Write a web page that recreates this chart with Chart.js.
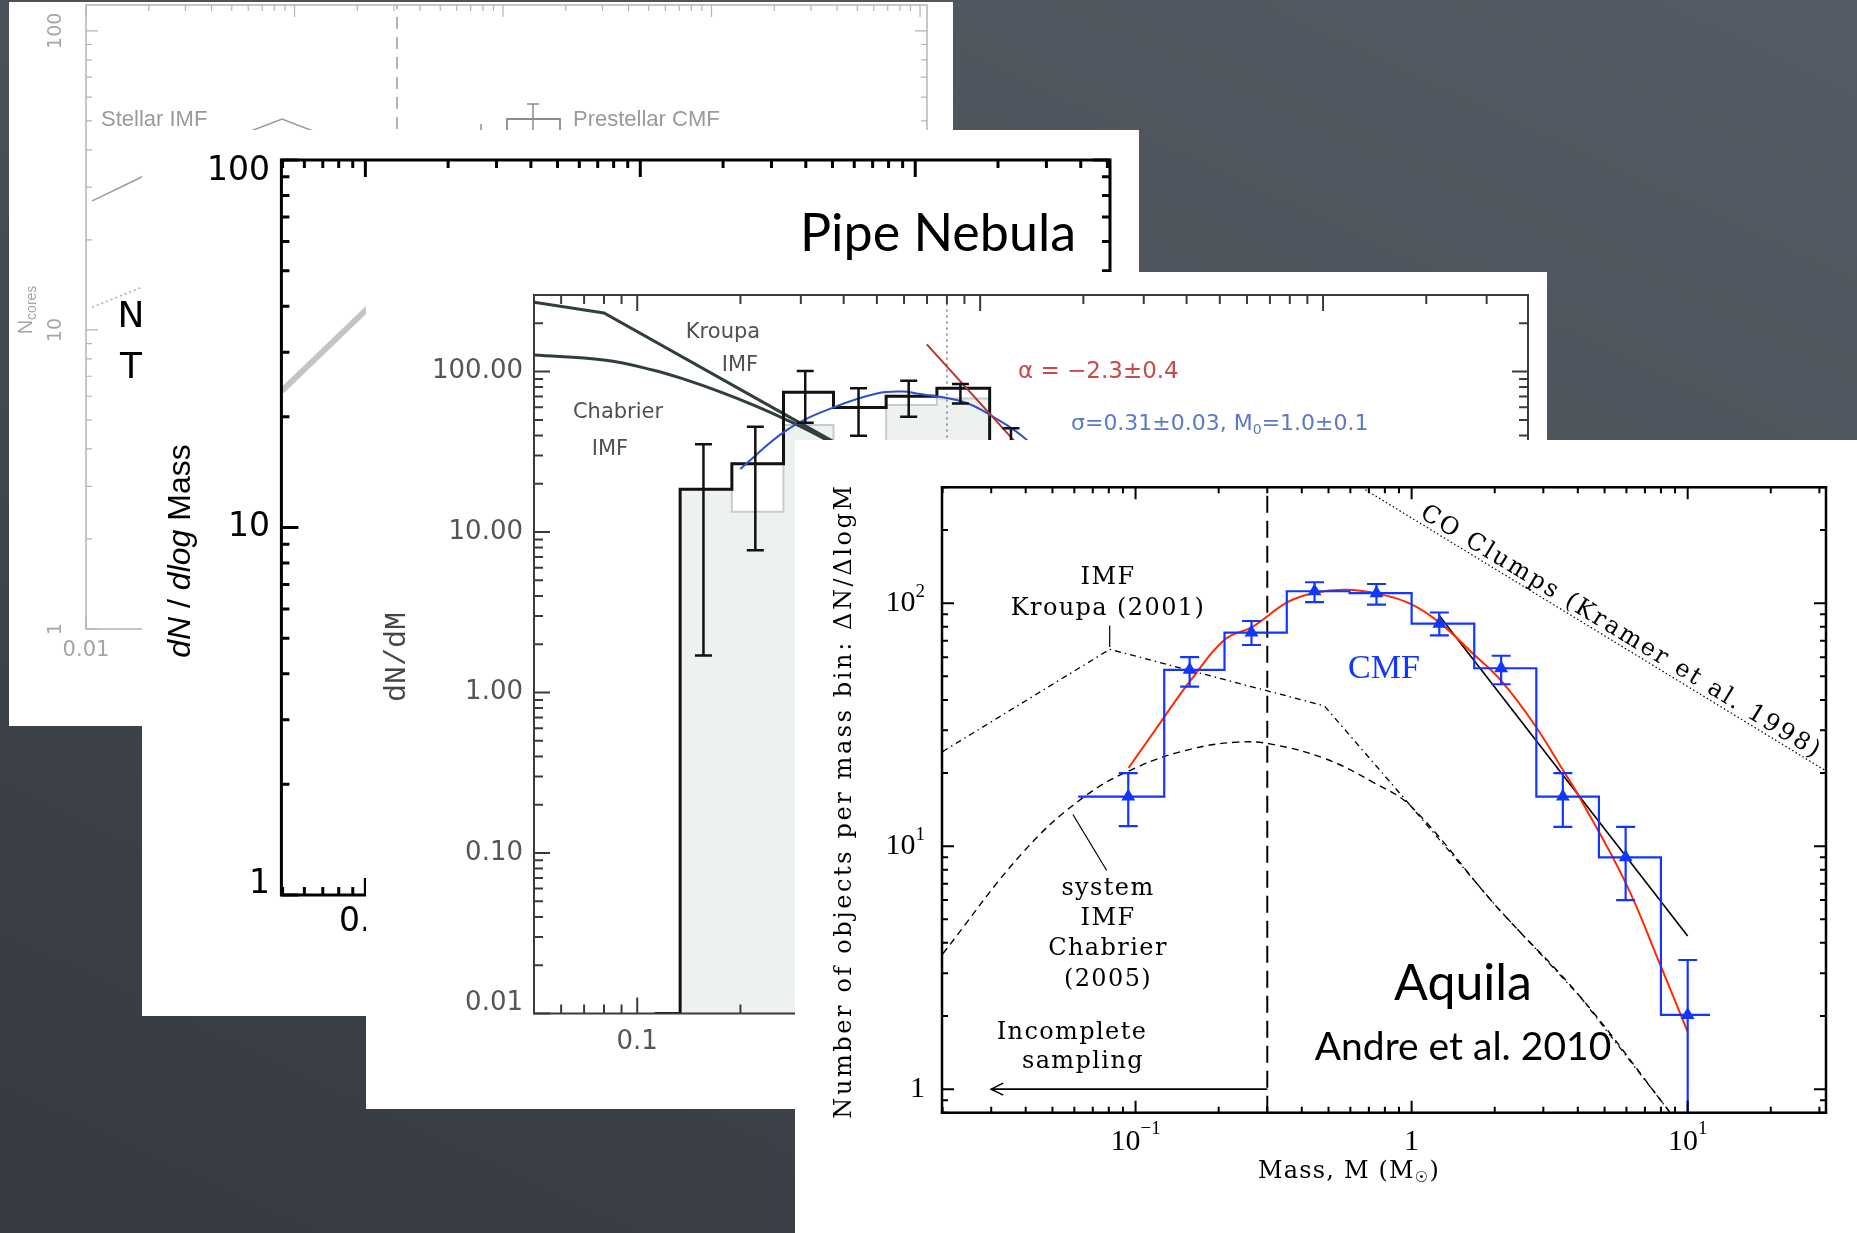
<!DOCTYPE html>
<html>
<head>
<meta charset="utf-8">
<title>Core mass functions</title>
<script src="https://cdn.jsdelivr.net/npm/chart.js@4.4.1/dist/chart.umd.min.js"></script>
<style>
  html, body { margin: 0; padding: 0; }
  body {
    width: 1857px; height: 1233px; overflow: hidden; position: relative;
    background: linear-gradient(205deg, #555b64 0%, #4c525a 40%, #3c4148 75%, #353940 100%);
  }
  .panel { position: absolute; background: #fff; }
  .panel canvas { position: absolute; left: 0; top: 0; }
</style>
</head>
<body>
<div class="panel" style="left:9px;top:2px;width:944px;height:724px"><canvas id="old" width="944" height="724"></canvas></div>
<div class="panel" style="left:142px;top:130px;width:997px;height:886px"><canvas id="nebula" width="997" height="886"></canvas></div>
<div class="panel" style="left:366px;top:272px;width:1181px;height:837px"><canvas id="pipe" width="1181" height="837"></canvas></div>
<div class="panel" style="left:795px;top:440px;width:1062px;height:793px"><canvas id="aquila" width="1062" height="793"></canvas></div>
<script>
// ---- Aquila (front panel) ----
const aquilaEdges = [0.062, 0.127, 0.210, 0.353, 0.596, 1.0, 1.686, 2.83, 4.77, 8.0, 12.05];
const aquilaCounts = [16.0, 53.2, 75.7, 112, 110, 82.4, 54.0, 16.0, 9.0, 2.02];
const aquilaMass = [0.0941, 0.157, 0.263, 0.445, 0.746, 1.26, 2.11, 3.53, 5.96, 10.0];
const aquilaErrLow = [12.1, 45.4, 67.3, 101, 98.6, 73.8, 46.4, 12.0, 6.0, 0.5];
const aquilaErrHigh = [20.0, 60.0, 84.5, 122, 120, 91.6, 60.8, 20.0, 12.0, 3.4];
const fitMass = [0.0944, 0.127, 0.158, 0.211, 0.265, 0.355, 0.44, 0.578, 0.767, 1.0, 1.266, 1.67, 2.11, 2.8, 3.54, 4.07, 5.95, 8.0, 10.0];
const fitValue = [21, 34, 48, 71, 80, 101, 110, 113.5, 109, 99, 83, 62, 48, 31.4, 20.5, 15.8, 7.1, 3.2, 1.72];
const slopeMass = [1.25, 10.0];
const slopeValue = [89.9, 4.27];
const kroupaMass = [0.02, 0.0806, 0.483, 1.0, 2.03, 4.07, 8.6];
const kroupaValue = [24.5, 64.6, 37.8, 14.5, 5.64, 2.41, 0.807];
const chabrierMass = [0.02, 0.039, 0.0648, 0.102, 0.159, 0.234, 0.31, 0.487, 0.72, 1.0, 2.03, 4.07, 8.6];
const chabrierValue = [3.6, 9.4, 15.9, 21.2, 25.1, 26.8, 26.3, 22.9, 18.4, 14.5, 5.64, 2.41, 0.807];
const coMass = [0.68, 31.7];
const coValue = [293, 20.4];
const completeMass = 0.3;
const arrowMass = [0.3, 0.030];
const arrowValue = [1.0, 1.0];
const kroupaTickMass = [0.0806, 0.0806];
const kroupaTickValue = [66, 81];
const systemTickMass = [0.0593, 0.0786];
const systemTickValue = [13.5, 7.94];
const aquilaXTicks = [0.1, 1, 10];
const aquilaXText = ['10', '1', '10'];
const aquilaXSup = ['\u22121', '', '1'];
const aquilaYTicks = [1, 10, 100];
const aquilaYText = ['1', '10', '10'];
const aquilaYSup = ['', '1', '2'];

// ---- Pipe Nebula dN/dM (third panel) ----
const pipeEdges = [0.1125, 0.1334, 0.1888, 0.267, 0.3735, 0.532, 0.748, 1.066, 1.5];
const pipeCounts = [0.01, 18.5, 26.6, 74.2, 59.8, 70.3, 78.6, 30];
const pipeAltEdges = [0.1334, 0.1888, 0.267, 0.3735, 0.532, 0.748, 1.066];
const pipeAltCounts = [18.5, 13.4, 46.4, 30, 61.8, 68];
const pipeErrMass = [0.156, 0.221, 0.309, 0.442, 0.619, 0.876, 1.23];
const pipeErrLow = [1.7, 7.7, 48, 39.8, 52.3, 63.3, 20];
const pipeErrHigh = [35.3, 45.3, 101, 78.6, 87.6, 83.6, 44.3];
const pipeKroupaMass = [0.05, 0.08, 0.373, 0.45];
const pipeKroupaValue = [270, 232, 36.6, 28];
const pipeChabrierMass = [0.05, 0.08, 0.1116, 0.1396, 0.1746, 0.2185, 0.2735, 0.3423, 0.45];
const pipeChabrierValue = [126.7, 118, 102, 88.5, 74.8, 61.8, 49.9, 39.3, 28];
const pipeFitMass = [0.1997, 0.2735, 0.3735, 0.5, 0.597, 0.653, 0.891, 1.092, 1.37, 1.7];
const pipeFitValue = [24.7, 43.3, 59.8, 73.1, 75, 73.1, 64.9, 52.3, 37.4, 22];
const pipeSlopeMass = [0.699, 1.6];
const pipeSlopeValue = [147.6, 21];
const pipeCutMass = 0.8;
const pipeXTicks = [0.1, 1, 10];
const pipeXText = ['0.1', '1', '10'];
const pipeYTicks = [0.01, 0.1, 1, 10, 100];
const pipeYText = ['0.01', '0.10', '1.00', '10.00', '100.00'];

// ---- Pipe Nebula dN/dlogM (second panel) ----
const nebulaMass = [0.0496, 0.1, 0.13];
const nebulaValue = [23.5, 38.9, 46];
const nebulaXTicks = [0.1, 1, 10];
const nebulaXText = ['0.1', '1', '10'];
const nebulaYTicks = [1, 10, 100];
const nebulaYText = ['1', '10', '100'];

// ---- back panel ----
const stellarMass = [0.0107, 0.0181, 0.03];
const stellarValue = [27, 32.2, 40];
const cmfMass = [0.0107, 0.0181, 0.03];
const cmfValue = [11.9, 13.8, 17];
const oldCutMass = 0.31;
const oldXTicks = [0.01, 0.1, 1, 10, 100];
const oldXText = ['0.01', '0.1', '1', '10', '100'];
const oldYTicks = [1, 10, 100];
const oldYText = ['1', '10', '100'];

const SERIF = '24px "DejaVu Serif"';
const LS = '1.4px';
const BLUE = '#1236ff';

function pts(xs, ys) { return xs.map((x, i) => ({ x: x, y: ys[i] })); }
function steps(edges, counts) {
    const p = counts.map((c, i) => ({ x: edges[i], y: c }));
    p.push({ x: edges[edges.length - 1], y: counts[counts.length - 1] });
    return p;
}
function line(data, color, width, dash, extra) {
    return Object.assign({ data: data, borderColor: color, borderWidth: width, borderDash: dash || [],
        pointRadius: 0, fill: false, tension: 0 }, extra || {});
}

function logTicks(min, max) {
    const out = [];
    for (let k = Math.floor(Math.log10(min)); k <= Math.ceil(Math.log10(max)); k++) {
        for (let m = 1; m <= 9; m++) {
            const v = m * Math.pow(10, k);
            if (v >= min * 0.9999 && v <= max * 1.0001) out.push({ v: v, major: m === 1 });
        }
    }
    return out;
}

function drawNote(ctx, n) {
    const parts = n.parts || [[n.t, n.font]];
    ctx.save();
    ctx.translate(n.x, n.y);
    if (n.rot) ctx.rotate(n.rot * Math.PI / 180);
    ctx.fillStyle = n.color || '#000';
    ctx.textBaseline = n.base || 'middle';
    ctx.textAlign = 'left';
    ctx.letterSpacing = n.ls || '0px';
    let w = 0;
    parts.forEach(p => { ctx.font = p[1]; w += ctx.measureText(p[0]).width; });
    let x = n.align === 'left' ? 0 : n.align === 'right' ? -w : -w / 2;
    parts.forEach(p => {
        ctx.font = p[1];
        ctx.fillText(p[0], x, p[2] || 0);
        x += ctx.measureText(p[0]).width;
    });
    ctx.restore();
}

function labelParts(L, i) {
    const p = [[L.text[i], L.font]];
    if (L.sup && L.sup[i]) p.push([L.sup[i], L.supFont, L.supDy]);
    return p;
}

const paperPlugin = {
    id: 'paper',
    afterDatasetsDraw(chart, args, o) {
        const ctx = chart.ctx, a = chart.chartArea, xs = chart.scales.x, ys = chart.scales.y;
        const ox = o.origin[0], oy = o.origin[1];
        ctx.save();

        (o.errorBars || []).forEach(e => {
            ctx.save();
            ctx.beginPath(); ctx.rect(a.left, a.top, a.width, a.height); ctx.clip();
            ctx.strokeStyle = e.color; ctx.lineWidth = e.width;
            ctx.beginPath();
            e.x.forEach((m, i) => {
                const px = xs.getPixelForValue(m);
                const top = ys.getPixelForValue(e.hi[i]), bot = ys.getPixelForValue(e.lo[i]);
                ctx.moveTo(px, top); ctx.lineTo(px, bot);
                ctx.moveTo(px - e.cap / 2, top); ctx.lineTo(px + e.cap / 2, top);
                if (e.lo[i] > ys.min) { ctx.moveTo(px - e.cap / 2, bot); ctx.lineTo(px + e.cap / 2, bot); }
            });
            ctx.stroke();
            ctx.restore();
        });

        if (o.arrow) {
            const d = chart.getDatasetMeta(o.arrow.dataset).data;
            const tip = d[d.length - 1];
            ctx.strokeStyle = '#000'; ctx.lineWidth = 1.6;
            ctx.beginPath();
            ctx.moveTo(tip.x + o.arrow.len, tip.y - o.arrow.half);
            ctx.lineTo(tip.x, tip.y);
            ctx.lineTo(tip.x + o.arrow.len, tip.y + o.arrow.half);
            ctx.stroke();
        }

        if (o.lineLabel) {
            const L = o.lineLabel, d = chart.getDatasetMeta(L.dataset).data;
            const p0 = d[0], p1 = d[d.length - 1];
            const ang = Math.atan2(p1.y - p0.y, p1.x - p0.x);
            const cx = p0.x + (p1.x - p0.x) * L.t + Math.sin(ang) * L.offset;
            const cy = p0.y + (p1.y - p0.y) * L.t - Math.cos(ang) * L.offset;
            drawNote(ctx, { t: L.text, font: L.font, x: cx, y: cy, rot: ang * 180 / Math.PI,
                base: 'alphabetic', ls: L.ls, color: '#000' });
        }

        // frame with inward log ticks on all four sides
        const f = o.frame;
        ctx.strokeStyle = f.color; ctx.lineWidth = f.tickWidth;
        ctx.beginPath();
        logTicks(xs.min, xs.max).forEach(t => {
            const px = xs.getPixelForValue(t.v), len = t.major ? f.major : f.minor;
            ctx.moveTo(px, a.bottom); ctx.lineTo(px, a.bottom - len);
            ctx.moveTo(px, a.top); ctx.lineTo(px, a.top + len);
        });
        logTicks(ys.min, ys.max).forEach(t => {
            const py = ys.getPixelForValue(t.v), len = t.major ? f.major : f.minor;
            ctx.moveTo(a.left, py); ctx.lineTo(a.left + len, py);
            ctx.moveTo(a.right, py); ctx.lineTo(a.right - len, py);
        });
        ctx.stroke();
        ctx.lineWidth = f.width;
        ctx.strokeRect(a.left, a.top, a.width, a.height);

        const XL = o.xLabels;
        XL.values.forEach((v, i) => {
            drawNote(ctx, { parts: labelParts(XL, i), x: xs.getPixelForValue(v), y: XL.y - oy, color: XL.color });
        });
        const YL = o.yLabels;
        YL.values.forEach((v, i) => {
            let py = ys.getPixelForValue(v);
            py = Math.min(Math.max(py, a.top + (YL.inset || 0)), a.bottom - (YL.inset || 0));
            if (YL.rot) {
                drawNote(ctx, { parts: labelParts(YL, i), x: YL.x - ox, y: py, rot: YL.rot, color: YL.color });
            } else {
                drawNote(ctx, { parts: labelParts(YL, i), x: YL.right - ox, y: py, align: 'right', color: YL.color });
            }
        });

        (o.paths || []).forEach(p => {
            ctx.strokeStyle = p.color; ctx.lineWidth = p.width;
            ctx.beginPath();
            p.pts.forEach((q, i) => i ? ctx.lineTo(q[0] - ox, q[1] - oy) : ctx.moveTo(q[0] - ox, q[1] - oy));
            ctx.stroke();
        });

        (o.notes || []).forEach(n => drawNote(ctx, Object.assign({}, n, { x: n.x - ox, y: n.y - oy })));
        ctx.restore();
    }
};

function logChart(id, panel, plot, xRange, yRange, datasets, paper) {
    paper.origin = panel;
    return new Chart(document.getElementById(id), {
        type: 'line',
        data: { datasets: datasets },
        options: {
            responsive: false,
            animation: false,
            devicePixelRatio: 1,
            layout: { padding: { left: plot[0] - panel[0], top: plot[1] - panel[1],
                right: panel[0] + panel[2] - plot[2], bottom: panel[1] + panel[3] - plot[3] } },
            scales: {
                x: { type: 'logarithmic', min: xRange[0], max: xRange[1], display: false },
                y: { type: 'logarithmic', min: yRange[0], max: yRange[1], display: false }
            },
            plugins: { legend: { display: false }, tooltip: { enabled: false }, paper: paper }
        },
        plugins: [paperPlugin]
    });
}

// back panel
const GREY = '#a4a4a4';
logChart('old', [9, 2, 944, 724], [86, 5, 927, 629], [0.01, 108], [1, 122], [
    line(pts(stellarMass, stellarValue), '#9c9c9c', 1.6),
    line(pts(cmfMass, cmfValue), '#b0b0b0', 1.6, [2, 3]),
    line([{ x: oldCutMass, y: 1 }, { x: oldCutMass, y: 122 }], '#9c9c9c', 1.5, [12, 8])
], {
    frame: { color: '#b4b4b4', width: 1.5, tickWidth: 1.2, major: 12, minor: 6 },
    xLabels: { values: oldXTicks, text: oldXText, font: '21px "DejaVu Sans"', color: GREY, y: 651 },
    yLabels: { values: oldYTicks, text: oldYText, font: '19px "DejaVu Sans"', color: GREY, x: 56, rot: -90 },
    paths: [
        { pts: [[251, 131], [282, 119], [313, 131]], color: '#9c9c9c', width: 1.5 },
        { pts: [[507, 136], [507, 119], [560, 119], [560, 136]], color: '#8c8c8c', width: 1.8 },
        { pts: [[533, 104], [533, 136]], color: '#8c8c8c', width: 1.5 },
        { pts: [[527, 104], [539, 104]], color: '#8c8c8c', width: 1.5 },
        { pts: [[481, 124], [481, 131]], color: '#8c8c8c', width: 1.5 }
    ],
    notes: [
        { t: 'Stellar IMF', font: '22px "Liberation Sans"', x: 101, y: 120, align: 'left', color: '#9a9a9a' },
        { t: 'Prestellar CMF', font: '22px "Liberation Sans"', x: 573, y: 120, align: 'left', color: '#9a9a9a' },
        { parts: [['N', '20px "Liberation Sans"'], ['cores', '14px "Liberation Sans"', 6]], x: 26, y: 310, rot: -90, color: GREY },
        { t: 'N', font: '36px "DejaVu Sans"', x: 131, y: 318 },
        { t: 'T', font: '36px "DejaVu Sans"', x: 131, y: 369 }
    ]
});

// Pipe Nebula dN/dlogM
logChart('nebula', [142, 130, 997, 886], [281.4, 160, 1110, 895], [0.0495, 51.1], [1, 100], [
    line(pts(nebulaMass, nebulaValue), '#c4c4c4', 6)
], {
    frame: { color: '#000', width: 3, tickWidth: 3, major: 17, minor: 8 },
    xLabels: { values: nebulaXTicks, text: nebulaXText, font: '33px "DejaVu Sans"', color: '#000', y: 922 },
    yLabels: { values: nebulaYTicks, text: nebulaYText, font: '33px "DejaVu Sans"', color: '#000', right: 270, inset: 11 },
    notes: [
        { t: 'Pipe Nebula', font: '52px Lato', x: 938, y: 251, base: 'alphabetic' },
        { parts: [['dN', 'italic 32px "Liberation Sans"'], [' / ', '32px "Liberation Sans"'],
            ['dlog', 'italic 32px "Liberation Sans"'], [' Mass', '32px "Liberation Sans"']], x: 181, y: 551, rot: -90 }
    ]
});

// Pipe Nebula dN/dM
const DARK = '#2f3f3d';
const pipeLabel = '21px "DejaVu Sans"';
logChart('pipe', [366, 272, 1181, 837], [534, 295, 1528, 1013.5], [0.05, 39.6], [0.01, 300], [
    line(pts(pipeSlopeMass, pipeSlopeValue), '#b83232', 2),
    line(pts(pipeFitMass, pipeFitValue), '#3050c8', 2, [], { tension: 0.4 }),
    line(steps(pipeEdges, pipeCounts), '#111', 3, [], { stepped: 'before' }),
    line(pts(pipeKroupaMass, pipeKroupaValue), DARK, 3),
    line(pts(pipeChabrierMass, pipeChabrierValue), DARK, 3, [], { tension: 0.4 }),
    line([{ x: pipeCutMass, y: 0.01 }, { x: pipeCutMass, y: 300 }], '#777', 1.5, [2, 4]),
    line(steps(pipeAltEdges, pipeAltCounts), '#c6cccb', 2, [], { stepped: 'before', fill: 'start', backgroundColor: '#eef2ef' })
], {
    errorBars: [{ x: pipeErrMass, lo: pipeErrLow, hi: pipeErrHigh, color: '#111', width: 2.5, cap: 17 }],
    frame: { color: '#3a3a3a', width: 2, tickWidth: 2, major: 16, minor: 9 },
    xLabels: { values: pipeXTicks, text: pipeXText, font: '26px "DejaVu Sans"', color: '#555', y: 1042 },
    yLabels: { values: pipeYTicks, text: pipeYText, font: '26px "DejaVu Sans"', color: '#555', right: 523, inset: 10 },
    notes: [
        { t: 'Kroupa', font: pipeLabel, x: 723, y: 333, color: '#505050' },
        { t: 'IMF', font: pipeLabel, x: 740, y: 366, color: '#505050' },
        { t: 'Chabrier', font: pipeLabel, x: 618, y: 413, color: '#505050' },
        { t: 'IMF', font: pipeLabel, x: 610, y: 450, color: '#505050' },
        { t: '\u03b1 = \u22122.3\u00b10.4', font: '23px "DejaVu Sans"', x: 1018, y: 372, align: 'left', color: '#c84a4a' },
        { parts: [['\u03c3=0.31\u00b10.03, M', '22px "DejaVu Sans"'], ['0', '14px "DejaVu Sans"', 6],
            ['=1.0\u00b10.1', '22px "DejaVu Sans"']], x: 1071, y: 424, align: 'left', color: '#5b79c9' },
        { t: 'dN/dM', font: '30px "Liberation Mono"', x: 397, y: 657, rot: -90, color: '#444' }
    ]
});

// Aquila
logChart('aquila', [795, 440, 1062, 793], [942, 487.3, 1826, 1112.7], [0.0199, 31.7], [0.8, 300], [
    line(pts(aquilaMass, aquilaCounts), BLUE, 0, [], { showLine: false, pointStyle: 'triangle', pointRadius: 8,
        pointBackgroundColor: BLUE, pointBorderColor: BLUE, pointBorderWidth: 0 }),
    line(steps(aquilaEdges, aquilaCounts), BLUE, 2.2, [], { stepped: 'before' }),
    line(pts(fitMass, fitValue), '#ff2a00', 2, [], { tension: 0.4 }),
    line(pts(slopeMass, slopeValue), '#000', 1.6),
    line(pts(kroupaMass, kroupaValue), '#000', 1.3, [6, 4, 1.5, 4]),
    line(pts(chabrierMass, chabrierValue), '#000', 1.4, [7, 5], { tension: 0.4 }),
    line(pts(coMass, coValue), '#000', 1.2, [1.5, 2.5]),
    line([{ x: completeMass, y: 0.8 }, { x: completeMass, y: 300 }], '#000', 2, [17, 8]),
    line(pts(arrowMass, arrowValue), '#000', 1.6),
    line(pts(kroupaTickMass, kroupaTickValue), '#000', 1.2),
    line(pts(systemTickMass, systemTickValue), '#000', 1.2)
], {
    errorBars: [{ x: aquilaMass, lo: aquilaErrLow, hi: aquilaErrHigh, color: BLUE, width: 2.2, cap: 19 }],
    arrow: { dataset: 8, len: 12, half: 6 },
    lineLabel: { dataset: 6, t: 0.542, offset: 5, text: 'CO Clumps (Kramer et al. 1998)', font: SERIF, ls: '2.4px' },
    frame: { color: '#000', width: 2.5, tickWidth: 2, major: 12, minor: 6 },
    xLabels: { values: aquilaXTicks, text: aquilaXText, sup: aquilaXSup, font: '30px "Liberation Serif"',
        supFont: '19px "Liberation Serif"', supDy: -13, color: '#000', y: 1142 },
    yLabels: { values: aquilaYTicks, text: aquilaYText, sup: aquilaYSup, font: '30px "Liberation Serif"',
        supFont: '19px "Liberation Serif"', supDy: -11, color: '#000', right: 925 },
    notes: [
        { t: 'IMF', font: SERIF, ls: LS, x: 1108, y: 578 },
        { t: 'Kroupa (2001)', font: SERIF, ls: LS, x: 1108, y: 609 },
        { t: 'system', font: SERIF, ls: LS, x: 1108, y: 889 },
        { t: 'IMF', font: SERIF, ls: LS, x: 1108, y: 919 },
        { t: 'Chabrier', font: SERIF, ls: LS, x: 1108, y: 949 },
        { t: '(2005)', font: SERIF, ls: LS, x: 1108, y: 980 },
        { t: 'Incomplete', font: SERIF, ls: LS, x: 1072, y: 1033 },
        { t: 'sampling', font: SERIF, ls: LS, x: 1083, y: 1062 },
        { t: 'CMF', font: '34px "Liberation Serif"', x: 1384, y: 669, color: BLUE },
        { t: 'Aquila', font: '50px Lato', x: 1463, y: 1000, base: 'alphabetic' },
        { t: 'Andre et al. 2010', font: '39px Lato', x: 1463, y: 1060, base: 'alphabetic' },
        { parts: [['Mass, M (M', SERIF], ['\u2609', '15px "DejaVu Sans"', 6], [')', SERIF]],
            ls: '1.2px', x: 1349, y: 1172 },
        { t: 'Number of objects per mass bin: \u0394N/\u0394logM', font: SERIF, ls: '2.6px', x: 845, y: 801, rot: -90 }
    ]
});
</script>
</body>
</html>
